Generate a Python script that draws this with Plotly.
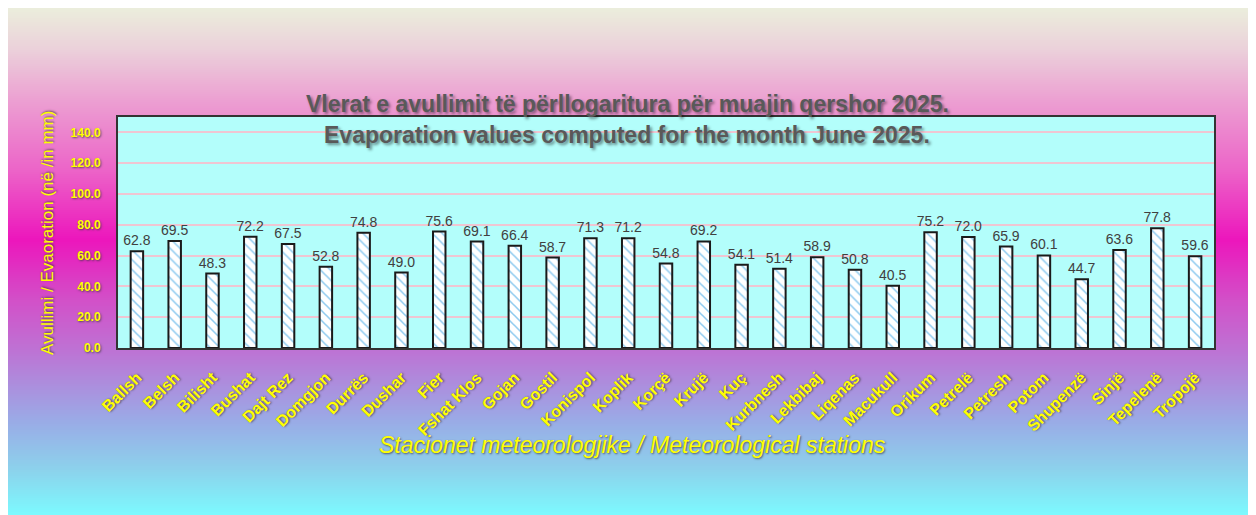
import plotly.graph_objects as go

stations = ["Ballsh", "Belsh", "Bilisht", "Bushat", "Dajt Rez", "Domgjon", "Durrës", "Dushar",
            "Fier", "Fshat Klos", "Gojan", "Gostil", "Konispol", "Koplik", "Korçë", "Krujë", "Kuç",
            "Kurbnesh", "Lekbibaj", "Liqenas", "Macukull", "Orikum", "Petrelë", "Petresh", "Potom",
            "Shupenzë", "Sinjë", "Tepelenë", "Tropojë"]
evaporation = [62.8, 69.5, 48.3, 72.2, 67.5, 52.8, 74.8, 49.0, 75.6, 69.1, 66.4, 58.7, 71.3, 71.2,
               54.8, 69.2, 54.1, 51.4, 58.9, 50.8, 40.5, 75.2, 72.0, 65.9, 60.1, 44.7, 63.6, 77.8, 59.6]
y_ticks = [0, 20, 40, 60, 80, 100, 120, 140]

OFF = 8  # page offset of the figure
W, H = 1256 - OFF, 515 - OFF
L, R, T, B = 118 - OFF, 1256 - 1214, 117 - OFF, 515 - 348
PW, PH = W - L - R, H - T - B


def px_x(p):
    return (p - OFF - L) / PW


def px_y(p):
    return (H - B - (p - OFF)) / PH


# background gradient stops (page pixel y, color)
stops = [(8, (235, 238, 220)), (50, (235, 208, 218)), (100, (236, 160, 210)), (170, (236, 100, 200)),
         (240, (236, 22, 188)), (300, (210, 80, 200)), (350, (190, 114, 212)), (420, (154, 170, 230)),
         (470, (140, 210, 236)), (515, (124, 250, 254))]


def color_at(y):
    for (y0, c0), (y1, c1) in zip(stops[:-1], stops[1:]):
        if y0 <= y <= y1:
            t = (y - y0) / (y1 - y0)
            return "rgb(%d,%d,%d)" % tuple(round(a + (b - a) * t) for a, b in zip(c0, c1))
    return "rgb(%d,%d,%d)" % stops[-1][1]


shapes = []
step = 2
for y in range(OFF, 515, step):
    shapes.append(dict(type="rect", xref="paper", yref="paper", layer="below",
                       x0=px_x(OFF - 1), x1=px_x(1257), y0=px_y(y + step + 0.5), y1=px_y(y),
                       fillcolor=color_at(y + step / 2), line=dict(width=0)))
# plot area fill
shapes.append(dict(type="rect", xref="paper", yref="paper", layer="below", x0=0, x1=1, y0=0, y1=1,
                   fillcolor="#b3fefb", line=dict(width=0)))

fig = go.Figure()
fig.add_trace(go.Bar(
    x=stations, y=evaporation, width=0.33,
    marker=dict(color="white", line=dict(color="#1a1a1a", width=2),
                pattern=dict(shape="\\", fgcolor="#1b95e0", bgcolor="white", size=7, solidity=0.22)),
    text=[f"{v:.1f}" for v in evaporation], textposition="outside", constraintext="none",
    textfont=dict(family="Liberation Sans Narrow, Arial Narrow, Arial", size=14, color="#404040"),
    cliponaxis=False,
))

yellow = "#ffff00"
shadow = "1px 1px 2px rgba(60,60,60,0.8)"

fig.update_layout(
    width=W, height=H,
    margin=dict(l=L, r=R, t=T, b=B),
    paper_bgcolor="#e6e6e6",
    plot_bgcolor="#b3fefb",
    shapes=shapes,
    showlegend=False,
    xaxis=dict(tickangle=-45, showgrid=False, showline=True, linecolor="#333", linewidth=2, mirror=True,
               tickfont=dict(family="Liberation Sans, Arial", size=16, color=yellow, weight="bold", shadow=shadow),
               ticks="", ticklabelstandoff=12, range=[-0.5, len(stations) - 0.5]),
    yaxis=dict(range=[0, 150], tickvals=y_ticks, tickformat=".1f", showgrid=True, gridcolor="#efc6d2",
               gridwidth=1.5, showline=True, linecolor="#333", linewidth=2, mirror=True, zeroline=False,
               ticks="", ticklabelstandoff=13,
               tickfont=dict(family="Liberation Sans, Arial", size=12, color=yellow, weight="bold", shadow=shadow)),
    annotations=[
        dict(text="Vlerat e avullimit të përllogaritura për muajin qershor 2025.", xref="paper", yref="paper",
             x=px_x(627), y=px_y(104), showarrow=False, xanchor="center", yanchor="middle",
             font=dict(family="Liberation Sans, Arial", size=23, color="#595959", weight="bold",
                       shadow="2px 2px 3px rgba(0,0,0,0.45)")),
        dict(text="Evaporation values computed for the month June 2025.", xref="paper", yref="paper",
             x=px_x(627), y=px_y(135), showarrow=False, xanchor="center", yanchor="middle",
             font=dict(family="Liberation Sans, Arial", size=23, color="#595959", weight="bold",
                       shadow="2px 2px 3px rgba(0,0,0,0.45)")),
        dict(text="Avullimi / Evaoration (në /in mm)", xref="paper", yref="paper", textangle=-90,
             x=px_x(47), y=px_y(233), showarrow=False, xanchor="center", yanchor="middle",
             font=dict(family="Liberation Sans, Arial", size=17, color=yellow, shadow=shadow)),
        dict(text="<i>Stacionet meteorologjike / Meteorological stations</i>", xref="paper", yref="paper",
             x=px_x(632), y=px_y(445), showarrow=False, xanchor="center", yanchor="middle",
             font=dict(family="Liberation Sans Narrow, Arial Narrow, Arial", size=23, color=yellow, shadow=shadow)),
    ],
)

fig.write_html("out.html")
